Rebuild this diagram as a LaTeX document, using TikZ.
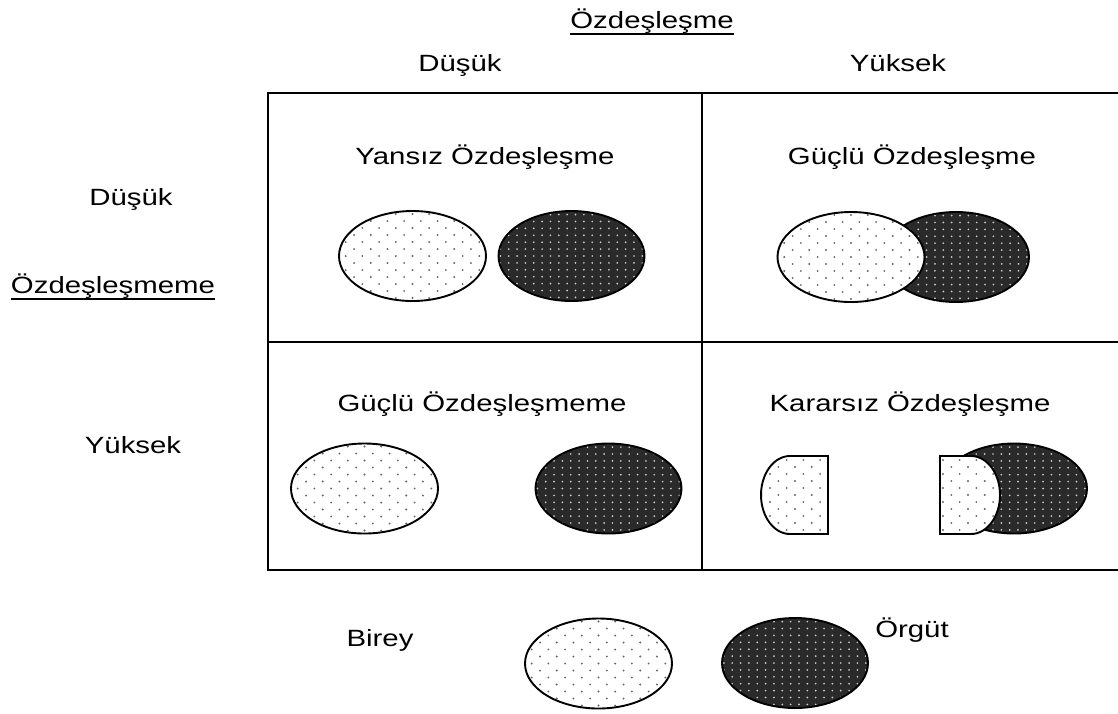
\documentclass[tikz,border=0pt]{standalone}
\usepackage{fontspec}
\setmainfont{Liberation Sans}[FakeStretch=1.25]
\definecolor{inkdark}{HTML}{2A2A2A}
\definecolor{dotgray}{HTML}{666666}
\definecolor{dotlight}{HTML}{CFCFCF}

% light dotted fill (individual), staggered dots
\newcommand{\lightdots}{%
  \fill[white] (-90,-60) rectangle (90,60);
  \foreach \r in {-8,...,8} {
    \foreach \c in {-6,...,6} {
      \fill[dotgray] ({\c*16.7 + mod(\r+20,2)*8.35}, {\r*7}) circle[radius=1.05];
    }
  }%
}
% dark dotted fill (organisation), regular grid of light dots
\newcommand{\darkdots}{%
  \fill[inkdark] (-90,-60) rectangle (90,60);
  \foreach \r in {-8,...,8} {
    \foreach \c in {-10,...,10} {
      \fill[dotlight] ({\c*8.35 + 4}, {\r*6.9}) circle[radius=0.95];
    }
  }%
}

\tikzset{
  lbl/.style={font=\fontsize{23.5}{28}\selectfont, inner sep=0pt, anchor=base},
  outline/.style={line width=1.9pt, draw=black},
  uline/.style={line width=1.6pt},
  birey/.pic={
    \begin{scope}
      \clip (0,0) ellipse [x radius=73.5, y radius=45];
      \lightdots
    \end{scope}
    \draw[outline] (0,0) ellipse [x radius=73.5, y radius=45];
  },
  orgut/.pic={
    \begin{scope}
      \clip (0,0) ellipse [x radius=73, y radius=45];
      \darkdots
    \end{scope}
    \draw[outline] (0,0) ellipse [x radius=73, y radius=45];
  },
}

\begin{document}
\begin{tikzpicture}[x=1pt, y=-1pt]
\useasboundingbox (0,0) rectangle (1118,713);

% ---- matrix frame ----
\draw[line width=2.4pt] (1130,93) -- (268,93) -- (268,570) -- (1130,570);
\draw[line width=1.9pt] (702,93) -- (702,570);
\draw[line width=1.9pt] (268,342) -- (1130,342);

% ---- axis labels ----
\node[lbl] (axtop) at (652,28) {Özdeşleşme};
\draw[uline] ([yshift=-6pt]axtop.base west) -- ([yshift=-6pt]axtop.base east);
\node[lbl] (toplow) at (460,71) {Düşük};
\node[lbl] (tophigh) at (898,71) {Yüksek};
\node[lbl] (leftlow) at (131,205) {Düşük};
\node[lbl] (axleft) at (113,293) {Özdeşleşmeme};
\draw[uline] ([yshift=-6pt]axleft.base west) -- ([yshift=-6pt]axleft.base east);
\node[lbl] (lefthigh) at (133,453) {Yüksek};

% ---- cell titles ----
\node[lbl] (c11) at (485,164) {Yansız Özdeşleşme};
\node[lbl] (c12) at (912,164) {Güçlü Özdeşleşme};
\node[lbl] (c21) at (482,411) {Güçlü Özdeşleşmeme};
\node[lbl] (c22) at (910,411) {Kararsız Özdeşleşme};

% ---- cell 1: separate ----
\pic at (412.5,256) {birey};
\pic at (571.5,256) {orgut};

% ---- cell 2: overlapping ----
\pic at (956,257) {orgut};
\pic at (851,257) {birey};

% ---- cell 3: far apart ----
\pic at (364.5,488.5) {birey};
\pic at (608.5,488.5) {orgut};

% ---- cell 4: split individual ----
\begin{scope}
  \clip (828,456) -- (790,456) arc[start angle=270, end angle=90, x radius=29, y radius=39] -- (828,534) -- cycle;
  \begin{scope}[shift={(795,495)}] \lightdots \end{scope}
\end{scope}
\draw[outline] (828,456) -- (790,456) arc[start angle=270, end angle=90, x radius=29, y radius=39] -- (828,534) -- cycle;

\pic at (1014,488.5) {orgut};
\begin{scope}
  \clip (940,456) -- (971,456) arc[start angle=270, end angle=450, x radius=29, y radius=39] -- (940,534) -- cycle;
  \begin{scope}[shift={(968,495)}] \lightdots \end{scope}
\end{scope}
\draw[outline] (940,456) -- (971,456) arc[start angle=270, end angle=450, x radius=29, y radius=39] -- (940,534) -- cycle;

% ---- legend ----
\node[lbl] (legb) at (380,646) {Birey};
\node[lbl] (lego) at (912,637) {Örgüt};
\pic at (598.5,663.5) {birey};
\pic at (795,663) {orgut};

\end{tikzpicture}
\end{document}
